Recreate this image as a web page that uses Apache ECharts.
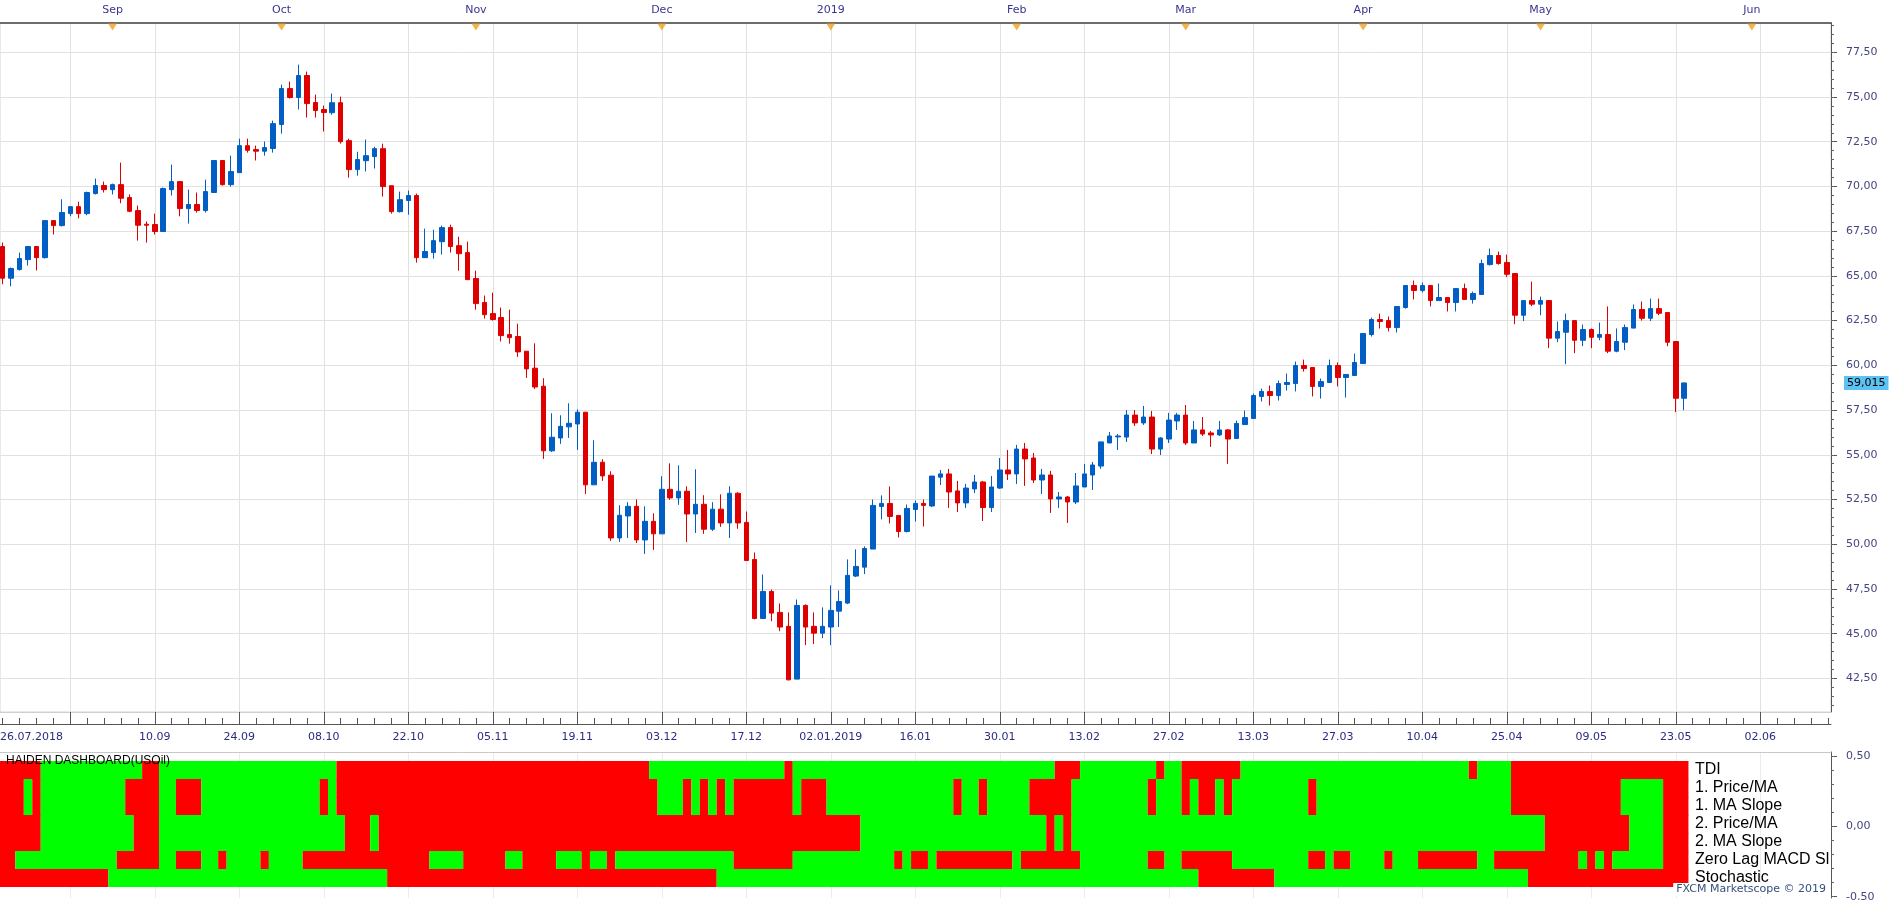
<!DOCTYPE html>
<html><head><meta charset="utf-8">
<script src="https://cdn.jsdelivr.net/npm/echarts@6/dist/echarts.min.js"></script>
<style>html,body{margin:0;padding:0;background:#fff}#c{width:1903px;height:900px}</style>
</head><body><div id="c"></div>
<script>
// ---------- DATA ----------
const dates = [
'15.08.2018','16.08.2018','17.08.2018','20.08.2018','21.08.2018','22.08.2018','23.08.2018','24.08.2018','27.08.2018','28.08.2018','29.08.2018','30.08.2018','31.08.2018',
'03.09.2018','04.09.2018','05.09.2018','06.09.2018','07.09.2018','10.09.2018','11.09.2018','12.09.2018','13.09.2018','14.09.2018','17.09.2018','18.09.2018','19.09.2018','20.09.2018','21.09.2018','24.09.2018','25.09.2018','26.09.2018','27.09.2018','28.09.2018',
'01.10.2018','02.10.2018','03.10.2018','04.10.2018','05.10.2018','08.10.2018','09.10.2018','10.10.2018','11.10.2018','12.10.2018','15.10.2018','16.10.2018','17.10.2018','18.10.2018','19.10.2018','22.10.2018','23.10.2018','24.10.2018','25.10.2018','26.10.2018','29.10.2018','30.10.2018','31.10.2018',
'01.11.2018','02.11.2018','05.11.2018','06.11.2018','07.11.2018','08.11.2018','09.11.2018','12.11.2018','13.11.2018','14.11.2018','15.11.2018','16.11.2018','19.11.2018','20.11.2018','21.11.2018','22.11.2018','23.11.2018','26.11.2018','27.11.2018','28.11.2018','29.11.2018','30.11.2018',
'03.12.2018','04.12.2018','05.12.2018','06.12.2018','07.12.2018','10.12.2018','11.12.2018','12.12.2018','13.12.2018','14.12.2018','17.12.2018','18.12.2018','19.12.2018','20.12.2018','21.12.2018','24.12.2018','26.12.2018','27.12.2018','28.12.2018','31.12.2018',
'02.01.2019','03.01.2019','04.01.2019','07.01.2019','08.01.2019','09.01.2019','10.01.2019','11.01.2019','14.01.2019','15.01.2019','16.01.2019','17.01.2019','18.01.2019','21.01.2019','22.01.2019','23.01.2019','24.01.2019','25.01.2019','28.01.2019','29.01.2019','30.01.2019','31.01.2019',
'01.02.2019','04.02.2019','05.02.2019','06.02.2019','07.02.2019','08.02.2019','11.02.2019','12.02.2019','13.02.2019','14.02.2019','15.02.2019','18.02.2019','19.02.2019','20.02.2019','21.02.2019','22.02.2019','25.02.2019','26.02.2019','27.02.2019','28.02.2019',
'01.03.2019','04.03.2019','05.03.2019','06.03.2019','07.03.2019','08.03.2019','11.03.2019','12.03.2019','13.03.2019','14.03.2019','15.03.2019','18.03.2019','19.03.2019','20.03.2019','21.03.2019','22.03.2019','25.03.2019','26.03.2019','27.03.2019','28.03.2019','29.03.2019',
'01.04.2019','02.04.2019','03.04.2019','04.04.2019','05.04.2019','08.04.2019','09.04.2019','10.04.2019','11.04.2019','12.04.2019','15.04.2019','16.04.2019','17.04.2019','18.04.2019','22.04.2019','23.04.2019','24.04.2019','25.04.2019','26.04.2019','29.04.2019','30.04.2019',
'01.05.2019','02.05.2019','03.05.2019','06.05.2019','07.05.2019','08.05.2019','09.05.2019','10.05.2019','13.05.2019','14.05.2019','15.05.2019','16.05.2019','17.05.2019','20.05.2019','21.05.2019','22.05.2019','23.05.2019','24.05.2019'
];
const open = [
66.64,64.87,65.35,65.91,66.64,66.02,68.09,67.81,68.48,68.87,
68.48,69.60,70.05,69.82,70.10,69.38,68.65,67.89,67.87,67.48,
69.82,70.27,68.76,68.99,68.65,69.66,71.45,70.10,70.77,72.28,
72.06,71.97,72.12,73.46,75.47,74.97,76.20,74.69,74.30,74.12,
74.68,72.56,70.94,71.44,71.67,72.11,70.04,68.59,69.21,69.49,
66.02,66.30,66.91,67.70,66.69,66.30,64.85,63.51,62.89,62.67,
61.72,61.61,60.79,59.84,58.83,55.22,55.94,56.56,56.72,57.38,
53.32,54.58,53.86,50.35,51.58,52.12,50.24,51.28,50.58,53.07,
52.59,52.96,51.69,52.23,50.84,51.96,51.19,52.85,51.22,49.15,
45.85,47.36,46.19,45.41,42.46,46.58,45.41,45.03,45.37,46.26,
46.71,48.22,48.72,49.73,52.11,52.28,51.61,50.71,51.94,52.28,
52.14,53.75,53.93,52.98,52.31,53.09,53.48,52.05,53.14,54.15,
53.93,55.32,54.82,53.59,53.87,52.53,52.64,52.36,53.20,53.87,
54.37,55.66,56.00,55.99,57.22,56.78,57.11,55.32,55.88,56.89,
57.22,55.66,56.39,56.22,56.11,56.39,55.91,56.69,57.03,58.26,
58.54,58.31,58.93,58.98,59.99,59.88,58.82,59.04,59.99,59.32,
59.43,60.10,61.72,62.56,62.50,62.11,63.23,64.46,64.18,64.46,
63.62,63.79,63.51,64.29,63.68,63.96,65.63,66.14,65.75,65.13,
62.80,63.62,63.42,63.62,61.52,61.85,62.50,61.40,62.00,61.57,
61.72,60.79,61.29,62.08,63.12,62.63,63.17,62.95,61.33,58.16
];
const close = [
64.87,65.41,65.97,66.64,66.02,68.09,67.81,68.54,68.87,68.48,
69.66,70.05,69.82,70.10,69.34,68.61,67.83,67.83,67.48,69.88,
70.27,68.76,68.99,68.65,69.71,71.45,70.10,70.83,72.28,72.02,
71.97,72.17,73.51,75.47,74.97,76.20,74.63,74.24,74.13,74.68,
72.50,70.94,71.50,71.72,72.11,69.99,68.59,69.26,69.49,66.02,
66.36,66.97,67.70,66.64,66.24,64.79,63.45,62.83,62.56,61.66,
61.55,60.75,59.80,58.79,55.22,55.98,56.59,56.76,57.38,53.32,
54.58,53.82,50.35,51.62,52.12,50.24,51.28,50.58,53.07,52.59,
52.96,51.69,52.23,50.84,51.96,51.19,52.85,51.19,49.09,45.85,
47.36,46.15,45.37,42.42,46.58,45.37,45.03,45.41,46.30,46.80,
48.26,48.76,49.76,52.17,52.28,51.55,50.71,52.00,52.28,52.17,
53.81,53.93,52.92,52.31,53.14,53.48,52.05,53.20,54.15,53.93,
55.32,54.77,53.59,53.87,52.53,52.64,52.36,53.26,53.93,54.43,
55.72,56.05,56.05,57.22,56.78,57.11,55.32,55.94,56.94,57.22,
55.66,56.39,56.16,56.11,56.39,55.88,56.75,57.08,58.31,58.54,
58.31,58.98,59.04,59.99,59.82,58.82,59.09,59.99,59.32,59.49,
60.16,61.78,62.56,62.45,62.11,63.29,64.46,64.18,64.46,63.62,
63.79,63.51,64.29,63.68,64.01,65.69,66.14,65.69,65.09,62.80,
63.62,63.42,63.62,61.52,61.89,62.50,61.40,62.00,61.57,61.72,
60.79,61.33,62.11,63.12,62.63,63.17,62.91,61.29,58.16,59.015
];
const low = [
64.53,64.42,65.30,65.58,65.30,65.97,67.31,67.76,68.33,68.22,
68.39,69.55,69.66,69.55,69.06,68.56,66.97,66.86,67.31,67.48,
69.49,68.33,67.92,68.54,68.54,69.66,70.05,69.99,70.77,71.89,
71.45,71.72,71.89,72.95,74.91,74.30,73.85,73.85,73.07,74.01,
72.39,70.49,70.60,70.83,71.00,69.43,68.48,68.54,68.42,65.74,
66.02,65.96,66.19,66.30,65.29,64.79,63.11,62.61,62.50,61.33,
61.21,60.47,59.30,58.68,54.77,55.16,55.61,55.94,55.27,52.81,
53.32,53.54,50.19,50.13,50.35,50.07,49.46,49.68,50.58,52.48,
52.20,50.13,50.63,50.58,50.74,50.97,50.35,50.86,49.06,45.80,
45.85,45.70,45.14,42.39,42.46,44.36,44.42,44.75,44.36,45.37,
46.65,48.16,48.33,49.73,51.39,51.16,50.38,50.66,51.27,50.99,
52.08,53.31,52.03,51.80,52.03,52.86,51.30,51.80,53.09,53.59,
53.37,53.26,53.42,52.81,51.75,52.03,51.19,52.25,53.20,53.03,
54.21,55.66,55.27,55.72,56.61,56.67,55.04,54.99,55.66,56.39,
55.55,55.66,56.05,55.44,56.05,54.49,55.91,56.69,57.03,57.98,
57.75,58.03,58.59,58.54,59.65,58.26,58.14,59.04,58.82,58.20,
59.43,60.10,61.61,62.06,61.89,61.83,63.17,63.68,64.07,63.29,
63.62,63.01,63.01,63.68,63.45,63.96,65.58,65.63,64.93,62.30,
62.47,63.31,62.80,60.96,61.29,60.06,60.68,61.07,60.96,61.40,
60.68,60.73,60.85,62.08,62.50,62.47,62.80,61.07,57.38,57.49
];
const high = [
66.86,65.47,66.30,66.64,66.64,68.09,68.09,69.28,68.87,69.15,
69.71,70.44,70.27,70.16,71.33,69.55,68.93,68.04,68.48,69.94,
71.22,70.27,69.82,69.66,70.38,71.45,71.45,71.72,72.67,72.67,
72.28,72.51,73.68,75.69,75.86,76.81,76.42,75.13,74.52,75.19,
75.02,72.67,71.94,72.62,72.22,72.39,70.04,69.71,69.77,69.60,
67.64,67.58,67.81,67.86,67.19,66.91,65.29,63.90,64.06,63.23,
63.11,62.33,60.79,61.23,59.28,57.32,57.21,57.88,57.54,57.38,
55.81,54.75,54.08,52.18,52.35,52.51,52.12,51.73,53.80,54.52,
54.41,53.24,54.19,52.74,52.35,52.79,53.24,52.91,51.83,49.54,
48.31,47.47,46.69,46.19,46.91,46.64,46.19,46.47,47.70,47.42,
49.15,49.71,49.88,52.50,52.73,53.23,51.61,52.22,52.45,52.50,
53.81,54.15,54.21,53.54,53.37,53.87,53.54,53.81,54.82,55.27,
55.55,55.66,55.10,54.21,54.10,52.92,52.70,53.98,54.49,54.60,
55.72,56.27,56.16,57.50,57.50,57.73,57.45,55.99,57.34,57.34,
57.78,56.89,57.11,56.33,56.89,56.44,56.91,57.47,58.42,58.70,
58.87,59.15,59.54,60.21,60.32,59.88,59.26,60.32,60.16,59.49,
60.66,61.78,62.67,62.89,62.73,63.29,64.46,64.74,64.63,64.46,
64.57,63.79,64.29,64.57,64.12,65.91,66.53,66.36,66.19,65.13,
63.62,64.68,63.84,63.62,62.45,62.89,62.50,62.28,62.06,62.39,
63.29,62.06,62.28,63.40,63.57,63.73,63.73,62.95,61.33,59.04
];

// bottom time axis: bar index of each grid line and its label
const gridIdx = [8,18,28,38,48,58,68,78,88,98,108,118,128,138,148,158,168,178,188,198,208];
const bottomLabelIdx = [18,28,38,48,58,68,78,88,98,108,118,128,138,148,158,168,178,188,198,208];
const bottomLabels = ['10.09','24.09','08.10','22.10','05.11','19.11','03.12','17.12','02.01.2019','16.01','30.01','13.02','27.02','13.03','27.03','10.04','25.04','09.05','23.05','02.06'];
const firstLabel = '26.07.2018';
// top month axis
const monthIdx = [13,33,56,78,98,120,140,161,182,207];
const monthLabels = ['Sep','Oct','Nov','Dec','2019','Feb','Mar','Apr','May','Jun'];
// price axis ticks
const priceTicks = [42.5,45,47.5,50,52.5,55,57.5,60,62.5,65,67.5,70,72.5,75,77.5];
const dashTicks = [-0.5,0,0.5];

// dashboard rows: runs of [start bar index, state] (1 = green, 0 = red)
const rowNames = ['TDI','1. Price/MA','1. MA Slope','2. Price/MA','2. MA Slope','Zero Lag MACD Slope','Stochastic'];
const rowTDI = [[0,0],[5,1],[17,0],[19,1],[40,0],[77,1],[93,0],[94,1],[125,0],[128,1],[137,0],[138,1],[140,0],[147,1],[174,0],[175,1],[179,0]];
const rowPriceMA1 = [[0,0],[3,1],[4,0],[5,1],[15,0],[19,1],[21,0],[24,1],[38,0],[39,1],[40,0],[78,1],[81,0],[82,1],[83,0],[84,1],[85,0],[86,1],[87,0],[94,1],[95,0],[98,1],[113,0],[114,1],[116,0],[117,1],[122,0],[127,1],[136,0],[137,1],[140,0],[141,1],[142,0],[144,1],[145,0],[146,1],[155,0],[156,1],[179,0],[192,1],[197,0]];
const rowSlope1 = [[0,0],[3,1],[4,0],[5,1],[15,0],[19,1],[21,0],[24,1],[38,0],[39,1],[40,0],[78,1],[81,0],[82,1],[83,0],[84,1],[85,0],[86,1],[87,0],[94,1],[95,0],[98,1],[113,0],[114,1],[116,0],[117,1],[122,0],[127,1],[136,0],[137,1],[140,0],[141,1],[142,0],[144,1],[145,0],[146,1],[155,0],[156,1],[179,0],[192,1],[197,0]];
const rowPriceMA2 = [[0,0],[5,1],[16,0],[19,1],[41,0],[44,1],[45,0],[102,1],[124,0],[125,1],[126,0],[127,1],[183,0],[193,1],[197,0]];
const rowSlope2 = [[0,0],[5,1],[16,0],[19,1],[41,0],[44,1],[45,0],[102,1],[124,0],[125,1],[126,0],[127,1],[183,0],[193,1],[197,0]];
const rowMACD = [[0,0],[2,1],[14,0],[19,1],[21,0],[24,1],[26,0],[27,1],[31,0],[32,1],[36,0],[51,1],[55,0],[60,1],[62,0],[66,1],[69,0],[70,1],[72,0],[73,1],[87,0],[94,1],[106,0],[107,1],[108,0],[110,1],[111,0],[120,1],[121,0],[128,1],[136,0],[138,1],[140,0],[146,1],[155,0],[157,1],[158,0],[160,1],[164,0],[165,1],[168,0],[175,1],[177,0],[187,1],[188,0],[189,1],[190,0],[191,1],[197,0]];
const rowStoch = [[0,0],[13,1],[46,0],[85,1],[142,0],[151,1],[181,0]];

// ---------- BUILD ----------
const nBars = open.length;
const xMin = -0.3195, xMax = 216.37;
const yMin = 40.622, yMax = 79.135;
const dMin = -0.509, dMax = 0.528;
const navy = '#2b2b84';
const gridCol = '#e1e1e1';
const lastClose = close[nBars - 1];

const bottomLabelMap = {}; bottomLabelIdx.forEach((v, k) => bottomLabelMap[v] = bottomLabels[k]);
const monthMap = {}; monthIdx.forEach((v, k) => monthMap[v] = monthLabels[k]);
const fmtComma = (v, d) => v.toFixed(d).replace('.', ',');

const minorXTicks = []; for (let i = 0; i <= 216; i += 2) if ((i - 8) % 10 !== 0) minorXTicks.push(i);
const minorPriceTicks = []; for (let k = 82; k <= 158; k++) minorPriceTicks.push(k / 2);
const minorDashTicks = []; for (let k = -5; k <= 5; k++) minorDashTicks.push(k / 10);

const candleData = open.map((o, i) => ({ name: dates[i], value: [i, o, close[i], low[i], high[i]] }));

const rows = [rowTDI, rowPriceMA1, rowSlope1, rowPriceMA2, rowSlope2, rowMACD, rowStoch];
const cellData = [];
rows.forEach((runs, r) => {
  runs.forEach((run, k) => {
    const s = run[0];
    const e = (k + 1 < runs.length ? runs[k + 1][0] : nBars) - 1;
    cellData.push([s, e, r, run[1]]);
  });
});

const xBase = { type: 'value', min: xMin, max: xMax };
const noOnZero = { onZero: false };

const option = {
  animation: false,
  backgroundColor: '#ffffff',
  title: {
    text: 'HAIDEN DASHBOARD(USOil)', left: 6, top: 755, padding: 0,
    textStyle: { fontSize: 12, fontWeight: 'normal', color: '#000', fontFamily: 'Liberation Sans' }
  },
  graphic: [{
    type: 'text', right: 74, bottom: 4, z: 100,
    style: { text: 'FXCM Marketscope \u00a9 2019', font: '11px "DejaVu Sans"', fill: '#35507a', backgroundColor: '#ffffff', padding: [1, 3] }
  }],
  grid: [
    { left: 0, right: 72, top: 23, bottom: 188, outerBoundsMode: 'none', containLabel: false, show: true, borderColor: '#d4d4d4', borderWidth: 1, backgroundColor: '#fff' },
    { left: 0, right: 72, top: 752, bottom: 2, outerBoundsMode: 'none', containLabel: false, show: false },
    { left: 0, right: 72, top: 761, bottom: 13, outerBoundsMode: 'none', containLabel: false, show: false }
  ],
  xAxis: [
    Object.assign({}, xBase, { gridIndex: 0, position: 'bottom',
      axisLine: { show: true, onZero: false, lineStyle: { color: '#cfcfcf' } },
      axisTick: { show: false, customValues: gridIdx },
      splitLine: { show: true, lineStyle: { color: gridCol } },
      axisLabel: { show: true, customValues: bottomLabelIdx, formatter: v => bottomLabelMap[Math.round(v)] || '', margin: 20, color: navy, fontSize: 11, fontFamily: 'DejaVu Sans' } }),
    Object.assign({}, xBase, { gridIndex: 0, position: 'top',
      axisLine: { show: true, onZero: false, lineStyle: { color: '#444', width: 1.5 } },
      axisTick: { show: false }, splitLine: { show: false },
      axisLabel: { show: true, customValues: monthIdx, formatter: v => monthMap[Math.round(v)] || '', margin: 7, color: '#3a3690', fontSize: 11, fontFamily: 'DejaVu Sans' } }),
    Object.assign({}, xBase, { gridIndex: 0, position: 'bottom', offset: 12,
      axisLine: { show: true, onZero: false, lineStyle: { color: '#555' } },
      axisTick: { show: true, inside: true, length: 12, customValues: gridIdx, lineStyle: { color: '#555' } },
      axisLabel: { show: false }, splitLine: { show: false } }),
    Object.assign({}, xBase, { gridIndex: 0, position: 'bottom', offset: 12,
      axisLine: { show: false, onZero: false },
      axisTick: { show: true, inside: true, length: 6, customValues: minorXTicks, lineStyle: { color: '#555' } },
      axisLabel: { show: false }, splitLine: { show: false } }),
    Object.assign({}, xBase, { gridIndex: 0, position: 'bottom',
      axisLine: { show: false, onZero: false }, axisTick: { show: false }, splitLine: { show: false },
      axisLabel: { show: true, customValues: [xMin], formatter: () => firstLabel, align: 'left', margin: 20, color: navy, fontSize: 11, fontFamily: 'DejaVu Sans' } }),
    Object.assign({}, xBase, { gridIndex: 1, position: 'top',
      axisLine: { show: true, onZero: false, lineStyle: { color: '#c8c8c8' } },
      axisTick: { show: false, customValues: gridIdx }, axisLabel: { show: false },
      splitLine: { show: true, lineStyle: { color: '#ececec' } } }),
    Object.assign({}, xBase, { gridIndex: 2, show: false, axisLine: noOnZero })
  ],
  yAxis: [
    { type: 'value', gridIndex: 0, position: 'right', min: yMin, max: yMax,
      axisLine: { show: true, onZero: false, lineStyle: { color: '#555' } },
      axisTick: { show: true, length: 6, customValues: priceTicks, lineStyle: { color: '#555' } },
      splitLine: { show: true, lineStyle: { color: gridCol } },
      axisLabel: { customValues: priceTicks, formatter: v => fmtComma(v, 2), margin: 15, color: '#454580', fontSize: 11, fontFamily: 'DejaVu Sans' } },
    { type: 'value', gridIndex: 0, position: 'right', min: yMin, max: yMax,
      axisLine: { show: false, onZero: false },
      axisTick: { show: true, length: 3, customValues: minorPriceTicks, lineStyle: { color: '#666' } },
      splitLine: { show: false }, axisLabel: { show: false } },
    { type: 'value', gridIndex: 0, position: 'right', min: yMin, max: yMax,
      axisLine: { show: false, onZero: false }, axisTick: { show: false }, splitLine: { show: false },
      axisLabel: { customValues: [lastClose], formatter: v => fmtComma(v, 3), margin: 13, color: '#000', backgroundColor: '#5cc2f2', padding: [2, 3, 1, 3], fontSize: 11, fontFamily: 'DejaVu Sans' } },
    { type: 'value', gridIndex: 1, position: 'right', min: dMin, max: dMax,
      axisLine: { show: true, onZero: false, lineStyle: { color: '#555' } },
      axisTick: { show: true, length: 6, customValues: dashTicks, lineStyle: { color: '#555' } },
      splitLine: { show: false },
      axisLabel: { customValues: dashTicks, formatter: v => fmtComma(v, 2), margin: 15, color: '#454580', fontSize: 11, fontFamily: 'DejaVu Sans' } },
    { type: 'value', gridIndex: 1, position: 'right', min: dMin, max: dMax,
      axisLine: { show: false, onZero: false },
      axisTick: { show: true, length: 3, customValues: minorDashTicks, lineStyle: { color: '#666' } },
      splitLine: { show: false }, axisLabel: { show: false } },
    { type: 'category', gridIndex: 2, data: rowNames, inverse: true, position: 'right', offset: -141,
      axisLine: { show: false, onZero: false }, axisTick: { show: false }, splitLine: { show: false },
      axisLabel: { interval: 0, hideOverlap: false, margin: 5, color: '#000', fontSize: 16, fontFamily: 'Liberation Sans', width: 136, overflow: 'truncate', ellipsis: '' } }
  ],
  series: [
    { type: 'candlestick', xAxisIndex: 0, yAxisIndex: 0, data: candleData, encode: { x: 0, y: [1, 2, 3, 4] },
      barWidth: 5, clip: true,
      itemStyle: { color: '#005ec4', color0: '#de0000', borderColor: '#005ec4', borderColor0: '#de0000', borderWidth: 1 } },
    { type: 'scatter', xAxisIndex: 1, yAxisIndex: 0, data: monthIdx.map(i => [i, yMax]),
      symbol: 'triangle', symbolRotate: 180, symbolSize: [9, 7], symbolOffset: [0, 4], clip: false, silent: true, z: 5,
      itemStyle: { color: '#f0a020' } },
    { type: 'custom', xAxisIndex: 6, yAxisIndex: 5, data: cellData, encode: { x: [0, 1], y: 2 }, clip: true, silent: true,
      renderItem: (params, api) => {
        const s = api.value(0), e = api.value(1), r = api.value(2), v = api.value(3);
        const p1 = api.coord([s - 0.5, r]);
        const p2 = api.coord([e + 0.5, r]);
        const h = api.size([0, 1])[1];
        return { type: 'rect', shape: { x: p1[0], y: p1[1] - h / 2, width: p2[0] - p1[0], height: h + 0.5 },
                 style: { fill: v ? '#00ff00' : '#ff0000' } };
      } }
  ]
};

const chart = echarts.init(document.getElementById('c'), null, { renderer: 'canvas', width: 1903, height: 900 });
chart.setOption(option);
</script>
</body></html>
